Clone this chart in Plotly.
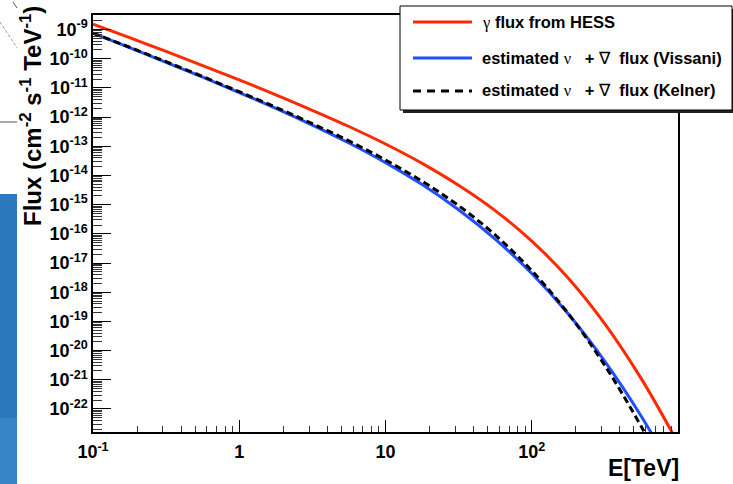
import plotly.graph_objects as go

# ---------------- data ----------------
energy_tev = [0.1, 0.178, 0.316, 0.562, 1, 1.78, 3.16, 5.62, 10, 17.8, 31.6, 56.2,
              100, 178, 316, 562, 1000]

gamma_hess = [1.55e-9, 5.30e-10, 1.78e-10, 5.86e-11, 1.88e-11, 5.82e-12, 1.72e-12,
              4.78e-13, 1.20e-13, 2.61e-14, 4.63e-15, 6.27e-16, 5.66e-17, 3.01e-18,
              8.24e-20, 1.07e-21, 6.73e-24]

nu_vissani = [7.59e-10, 2.42e-10, 7.59e-11, 2.33e-11, 6.95e-12, 1.99e-12, 5.33e-13,
              1.30e-13, 2.77e-14, 4.90e-15, 6.73e-16, 6.64e-17, 4.38e-18, 1.79e-19,
              4.25e-21, 5.51e-23, 3.8e-25]

nu_kelner = [7.59e-10, 2.48e-10, 7.94e-11, 2.47e-11, 7.45e-12, 2.18e-12, 5.98e-13,
             1.53e-13, 3.41e-14, 6.38e-15, 9.29e-16, 9.16e-17, 5.51e-18, 1.83e-19,
             3.08e-21, 2.46e-23, 1.26e-25]

x_major = [0.1, 1, 10, 100]
x_major_text = ["10<sup>-1</sup>", "1", "10", "10<sup>2</sup>"]
y_exponents = list(range(-9, -23, -1))

legend_labels = [
    "γ flux from HESS",
    "estimated ν + ν̄ flux (Vissani)",
    "estimated ν + ν̄ flux (Kelner)",
]

# ---------------- styling ----------------
RED = "#ff2a00"
BLUE = "#1f4fff"
W, H = 733, 484
L, R, T, B = 93, 678, 15, 432
FONT = "Liberation Sans, Arial, Helvetica, sans-serif"
SERIF = "Liberation Serif, Times New Roman, serif"


def px(xp):
    return (xp - L) / (R - L)


def py(yp):
    return (B - yp) / (B - T)


fig = go.Figure()
fig.add_trace(go.Scatter(x=energy_tev, y=gamma_hess, mode="lines", name=legend_labels[0],
                         line=dict(color=RED, width=3, shape="spline"), showlegend=False))
fig.add_trace(go.Scatter(x=energy_tev, y=nu_vissani, mode="lines", name=legend_labels[1],
                         line=dict(color=BLUE, width=3, shape="spline"), showlegend=False))
fig.add_trace(go.Scatter(x=energy_tev, y=nu_kelner, mode="lines", name=legend_labels[2],
                         line=dict(color="black", width=3, dash="7px,4px", shape="spline"),
                         showlegend=False))

x_minor = [m * 10 ** k for k in (-1, 0, 1, 2) for m in range(2, 10)]
y_major = [10.0 ** e for e in y_exponents]
y_major_text = ["10<sup>%d</sup>" % e for e in y_exponents]
y_minor = [m * 10.0 ** k for k in range(-23, -8) for m in range(2, 10)]

fig.update_xaxes(
    type="log", range=[-1, 3], showgrid=False, zeroline=False,
    showline=True, linecolor="black", linewidth=1.5, mirror=True,
    tickmode="array", tickvals=x_major, ticktext=x_major_text,
    ticks="inside", ticklen=12, tickwidth=1, tickcolor="black",
    ticklabelstandoff=3,
    tickfont=dict(family=FONT, size=18, color="black", weight="bold"),
    minor=dict(tickmode="array", tickvals=x_minor, ticks="inside", ticklen=6,
               tickwidth=1, tickcolor="#333", showgrid=False),
)
fig.update_yaxes(
    type="log", range=[-22.79, -8.5], showgrid=False, zeroline=False,
    showline=True, linecolor="black", linewidth=1.5, mirror=True,
    tickmode="array", tickvals=y_major, ticktext=y_major_text,
    ticks="inside", ticklen=18, tickwidth=1, tickcolor="black",
    ticklabelstandoff=0,
    tickfont=dict(family=FONT, size=18, color="black", weight="bold"),
    minor=dict(tickmode="array", tickvals=y_minor, ticks="inside", ticklen=9,
               tickwidth=1, tickcolor="#333", showgrid=False),
)

shapes = []
# background artefacts at the left edge
shapes.append(dict(type="rect", xref="paper", yref="paper", x0=px(0), x1=px(17), y0=py(194), y1=py(418),
                   fillcolor="#2d78bf", line=dict(width=0), layer="below"))
shapes.append(dict(type="rect", xref="paper", yref="paper", x0=px(0), x1=px(17), y0=py(418), y1=py(484),
                   fillcolor="#3882c6", line=dict(width=0), layer="below"))
shapes.append(dict(type="line", xref="paper", yref="paper", x0=px(0), x1=px(17), y0=py(122), y1=py(122),
                   line=dict(color="#555", width=1)))
shapes.append(dict(type="line", xref="paper", yref="paper", x0=px(0), x1=px(17), y0=py(22), y1=py(48),
                   line=dict(color="#999", width=1, dash="3px,2px")))
shapes.append(dict(type="line", xref="paper", yref="paper", x0=px(13), x1=px(17), y0=py(2), y1=py(8),
                   line=dict(color="#555", width=1)))

# legend box with shadow
shapes.append(dict(type="rect", xref="paper", yref="paper", x0=px(403), x1=px(736), y0=py(9), y1=py(113),
                   fillcolor="#222", line=dict(width=0)))
shapes.append(dict(type="rect", xref="paper", yref="paper", x0=px(400), x1=px(732), y0=py(6), y1=py(110),
                   fillcolor="white", line=dict(color="black", width=1)))
rows = [22, 58, 91]
styles = [dict(color=RED, width=3), dict(color=BLUE, width=3), dict(color="black", width=3, dash="8px,6px")]
for r, st in zip(rows, styles):
    shapes.append(dict(type="line", xref="paper", yref="paper", x0=px(413), x1=px(472), y0=py(r), y1=py(r),
                       line=st))

fig.update_layout(shapes=shapes)

sp = "\u00a0"
greek = lambda s: '<span style="font-family:%s;font-weight:normal">%s</span>' % (SERIF, s)
legend_html = [
    greek("γ") + sp + "<b>flux from HESS</b>",
    "<b>estimated</b>" + sp + greek("ν") + sp * 3 + "<b>+</b>" + sp + greek("∇") + sp * 2 + "<b>flux (Vissani)</b>",
    "<b>estimated</b>" + sp + greek("ν") + sp * 3 + "<b>+</b>" + sp + greek("∇") + sp * 2 + "<b>flux (Kelner)</b>",
]
annotations = []
for r, txt in zip(rows, legend_html):
    annotations.append(dict(xref="paper", yref="paper", x=px(480), y=py(r), xanchor="left", yanchor="middle",
                            text=txt, showarrow=False, font=dict(family=FONT, size=16.5, color="black")))

annotations.append(dict(xref="paper", yref="paper", x=px(31), y=py(116), xanchor="center", yanchor="middle",
                        textangle=-90, showarrow=False,
                        text="<b>Flux (cm<sup>-2</sup> s<sup>-1</sup> TeV<sup>-1</sup>)</b>",
                        font=dict(family=FONT, size=24, color="black")))
annotations.append(dict(xref="paper", yref="paper", x=px(681), y=py(468), xanchor="right", yanchor="middle",
                        showarrow=False, text="<b>E[TeV]</b>",
                        font=dict(family=FONT, size=23, color="black")))

fig.update_layout(
    width=W, height=H,
    margin=dict(l=L, r=W - R, t=T, b=H - B, pad=0),
    paper_bgcolor="white", plot_bgcolor="white",
    annotations=annotations,
    showlegend=False,
)

fig.write_html("out.html", config={"displayModeBar": False},
               post_script="document.body.style.margin='0';document.body.style.overflow='hidden';")
